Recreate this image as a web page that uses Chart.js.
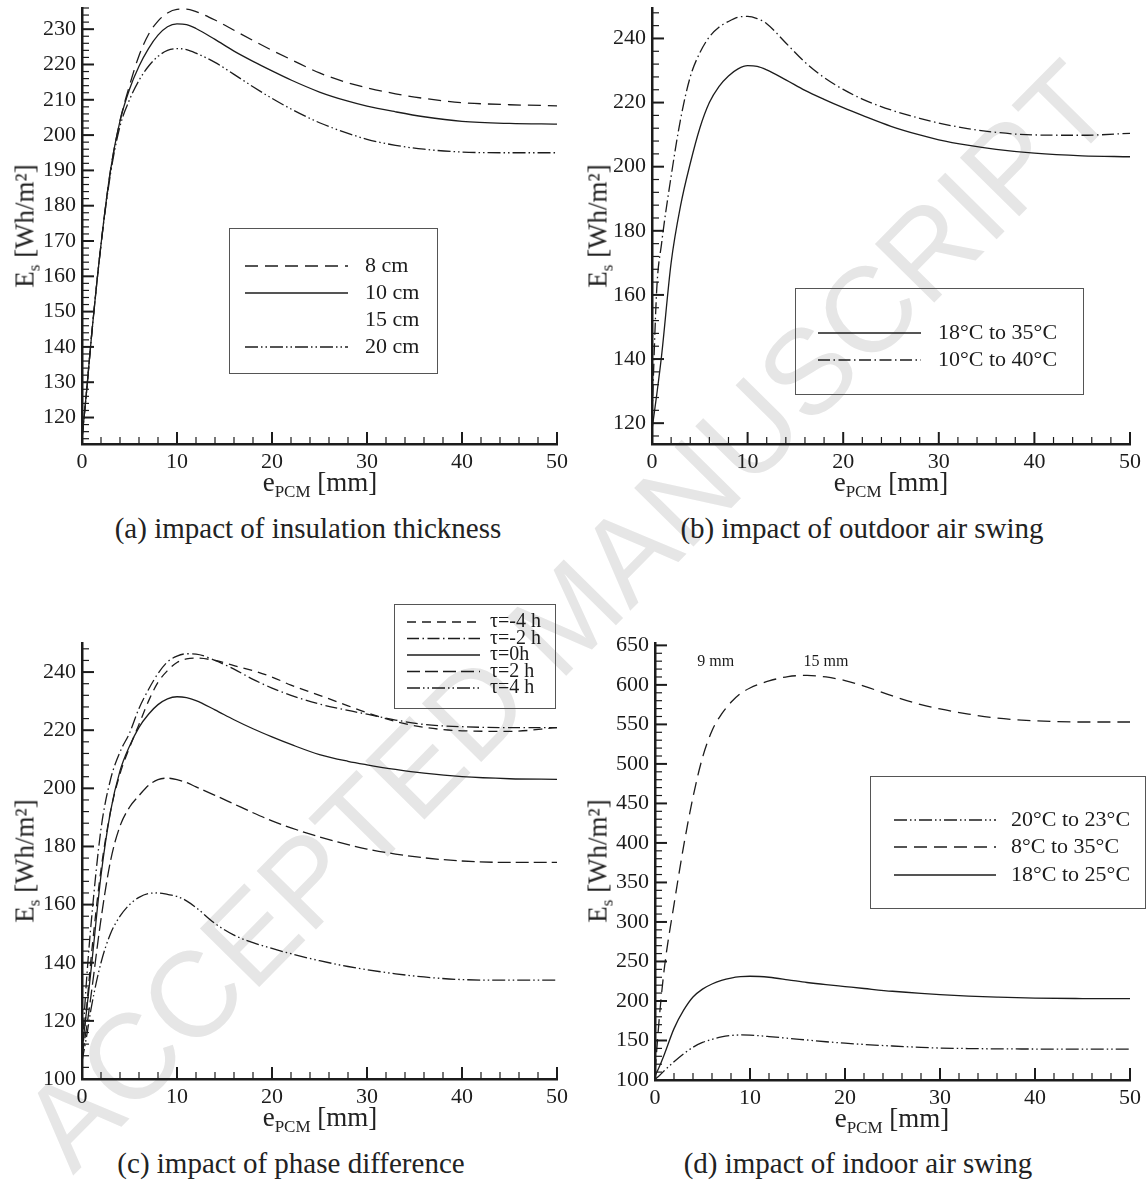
<!DOCTYPE html>
<html>
<head>
<meta charset="utf-8">
<title>Stored energy vs PCM thickness</title>
<script src="https://cdn.jsdelivr.net/npm/chart.js@4.4.1/dist/chart.umd.min.js"></script>
<style>
  body { margin: 0; background: #fff; }
  #page { position: relative; width: 1146px; height: 1186px; overflow: hidden;
          font-family: 'Liberation Serif', 'Times New Roman', serif; color: #222; }
  #page canvas { position: absolute; z-index: 1; }
  .mark { position: absolute; left: 567px; top: 615px; z-index: 0; white-space: nowrap; line-height: 1;
          transform: translate(-50%, -50%) rotate(-45.4deg);
          font: 121px 'Liberation Sans', Arial, sans-serif; color: #e6e6e6; }
  .ytitle { position: absolute; z-index: 2; white-space: nowrap; line-height: 1; font-size: 27px;
            transform: translate(-50%, -50%) rotate(-90deg); }
  .xtitle { position: absolute; z-index: 2; white-space: nowrap; line-height: 1; font-size: 27px;
            transform: translate(-50%, -50%); }
  .sub { font-size: 17px; position: relative; top: 6px; }
  .caption { position: absolute; z-index: 2; white-space: nowrap; line-height: 1; font-size: 29px;
             transform: translate(-50%, -50%); }
</style>
</head>
<body>
<div id="page">
  <div class="mark">ACCEPTED MANUSCRIPT</div>

  <canvas id="chartA" width="573" height="524" style="left:0;top:-30px"></canvas>
  <canvas id="chartB" width="573" height="524" style="left:573px;top:-30px"></canvas>
  <canvas id="chartC" width="573" height="530" style="left:0;top:600px"></canvas>
  <canvas id="chartD" width="573" height="530" style="left:573px;top:600px"></canvas>

  <div class="ytitle" style="left:25px;top:226px">E<span class="sub">s</span> [Wh/m²]</div>
  <div class="ytitle" style="left:598px;top:226px">E<span class="sub">s</span> [Wh/m²]</div>
  <div class="ytitle" style="left:25px;top:861px">E<span class="sub">s</span> [Wh/m²]</div>
  <div class="ytitle" style="left:598px;top:861px">E<span class="sub">s</span> [Wh/m²]</div>

  <div class="xtitle" style="left:320px;top:482px">e<span class="sub">PCM</span> [mm]</div>
  <div class="xtitle" style="left:891px;top:482px">e<span class="sub">PCM</span> [mm]</div>
  <div class="xtitle" style="left:320px;top:1117px">e<span class="sub">PCM</span> [mm]</div>
  <div class="xtitle" style="left:892px;top:1118px">e<span class="sub">PCM</span> [mm]</div>

  <div class="caption" style="left:308px;top:528px">(a) impact of insulation thickness</div>
  <div class="caption" style="left:862px;top:528px">(b) impact of outdoor air swing</div>
  <div class="caption" style="left:291px;top:1163px">(c) impact of phase difference</div>
  <div class="caption" style="left:858px;top:1163px">(d) impact of indoor air swing</div>
</div>

<script>
// PCM thickness [mm], shared by every curve
const eX = [0, 0.5, 1, 2, 3, 4, 5, 6, 7, 8, 9, 10, 11, 12, 14, 16, 18, 20, 22, 25, 28, 30, 33, 36, 40, 45, 50];
const xTicks = [0, 10, 20, 30, 40, 50];

// (a) insulation thickness
const thick8  = [114, 128, 143, 169, 190, 204, 214, 222.5, 228.5, 232.3, 234.6, 235.6, 235.7, 235, 232.6, 229.7, 226.8, 224, 221.4, 217.6, 214.8, 213.4, 211.7, 210.4, 209.2, 208.6, 208.3];
const thick10 = [114, 128, 143, 169, 190, 204, 213, 219.5, 224.5, 228.3, 230.7, 231.5, 231.3, 230.2, 227.1, 223.8, 220.9, 218.2, 215.6, 212.2, 209.6, 208.2, 206.6, 205.2, 203.9, 203.3, 203.1];
const thick15 = [];   // listed in the legend, no curve visible
const thick20 = [114, 128, 143, 169, 189, 202.5, 210, 215.5, 219.5, 222.3, 224, 224.5, 224.2, 223.2, 220.6, 217.2, 213.7, 210.4, 207.4, 203.5, 200.5, 198.8, 197.1, 196, 195.2, 195, 195];
const ticksA = [120, 130, 140, 150, 160, 170, 180, 190, 200, 210, 220, 230];

// (b) outdoor air swing
const out18_35 = [118, 129, 141, 170, 188, 201, 212, 220, 225, 228.3, 230.5, 231.5, 231.3, 230.2, 227.1, 223.8, 221, 218.4, 216, 212.6, 209.9, 208.4, 206.7, 205.4, 204.2, 203.4, 203.1];
const out10_40 = [122, 162, 176, 197, 215, 228, 235.5, 240.5, 243.5, 245.3, 246.6, 246.9, 246.2, 244.6, 238.6, 232.6, 227.8, 224.1, 221.1, 217.7, 215.1, 213.6, 211.9, 210.7, 209.9, 209.8, 210.4];
const ticksB = [120, 140, 160, 180, 200, 220, 240];

// (c) phase difference
const tauM4 = [108, 125, 143, 172, 192, 205, 214, 222, 230, 236.5, 240.5, 243.3, 244.5, 244.8, 244, 242.2, 240.5, 238.3, 235.5, 232, 228.4, 226, 223, 221, 219.8, 219.6, 220.9];
const tauM2 = [110, 135, 155, 186, 203, 212.5, 219, 227.5, 234, 239.5, 243.5, 245.5, 246.3, 246.2, 244, 241, 237.5, 234.5, 232, 229, 226.8, 225.5, 223.5, 222, 221.2, 220.9, 220.9];
const tau0  = [110, 124, 139, 170, 192, 206, 214.5, 221, 225.5, 228.8, 230.8, 231.5, 231.2, 230.2, 227, 223.6, 220.5, 217.7, 215.1, 211.6, 209.3, 208.1, 206.5, 205.2, 204, 203.3, 203.1];
const tauP2 = [108, 118, 130, 155, 175, 187, 193.5, 197.5, 201, 203, 203.5, 203, 202, 200.5, 197.6, 194.6, 191.6, 188.8, 186.4, 183.3, 180.6, 179.1, 177.4, 176.1, 175, 174.5, 174.5];
const tauP4 = [106, 115, 125, 140, 150, 156, 160, 162.5, 163.8, 164, 163.5, 162.8, 161.3, 159, 153.5, 149.5, 146.9, 144.9, 143.1, 140.7, 138.7, 137.6, 136.2, 135.1, 134.2, 134, 134];
const ticksC = [100, 120, 140, 160, 180, 200, 220, 240];

// (d) indoor air swing
const in20_23 = [101, 106, 112, 123, 133, 141.5, 147.5, 151.5, 154.5, 156.3, 157, 156.7, 156, 155, 152.8, 150.6, 148.4, 146.6, 145, 143, 141.3, 140.4, 139.8, 139.4, 139.2, 139, 139];
const in8_35  = [110, 185, 243, 322, 395, 458, 508, 542, 563, 578, 589, 596, 601, 605, 610.5, 612, 610, 605.5, 598.5, 586, 575, 569.5, 563, 558, 554.5, 553, 553];
const in18_25 = [105, 118, 133, 165, 188, 205, 215, 221.5, 226, 229, 230.7, 231.3, 231, 230, 226.8, 223.4, 220.6, 218.2, 215.8, 212.3, 209.5, 208, 206.2, 204.9, 203.6, 203.1, 203];
const ticksD = [100, 150, 200, 250, 300, 350, 400, 450, 500, 550, 600, 650];

const SERIF = "'Liberation Serif', 'Times New Roman', serif";
const INK = '#1c1c1c';

// line styles
const SOLID = [];
const DASH = [13, 7];
const SHORT_DASH = [9, 6];
const LONG_DASH = [13, 5];
const DASH_DOT = [12, 3.5, 1.5, 3.5];
const DASH_DOT_DOT = [13, 3, 1.5, 3, 1.5, 3];

// inward major/minor tick marks on the left and bottom axes
const inwardTicks = {
    id: 'inwardTicks',
    afterDatasetsDraw(chart, args, opts) {
        if (!opts || !opts.xMinor) return;
        const {ctx, chartArea} = chart;
        ctx.save();
        ctx.strokeStyle = INK;
        const run = (scale, major, minor, vertical) => {
            const start = Math.ceil(scale.min / minor - 1e-9) * minor;
            const n = Math.floor((scale.max - start) / minor + 1e-9);
            for (let i = 0; i <= n; i++) {
                const v = start + i * minor;
                const isMajor = Math.abs(v / major - Math.round(v / major)) < 1e-6;
                const len = isMajor ? 12 : 7;
                ctx.lineWidth = isMajor ? 2 : 1.2;
                const p = scale.getPixelForValue(v);
                ctx.beginPath();
                if (vertical) {
                    ctx.moveTo(chartArea.left, p);
                    ctx.lineTo(chartArea.left + len, p);
                } else {
                    ctx.moveTo(p, chartArea.bottom);
                    ctx.lineTo(p, chartArea.bottom - len);
                }
                ctx.stroke();
            }
        };
        run(chart.scales.x, opts.xMajor, opts.xMinor, false);
        run(chart.scales.y, opts.yMajor, opts.yMinor, true);
        ctx.restore();
    }
};

// boxed legend placed inside the plot
const boxLegend = {
    id: 'boxLegend',
    afterDraw(chart, args, opts) {
        if (!opts || !opts.box) return;
        const {ctx} = chart;
        const [bx, by, bw, bh] = opts.box;
        ctx.save();
        ctx.strokeStyle = '#555';
        ctx.lineWidth = 1;
        ctx.strokeRect(bx + 0.5, by + 0.5, bw, bh);
        ctx.font = opts.font;
        ctx.textBaseline = 'middle';
        ctx.fillStyle = INK;
        chart.data.datasets.forEach((ds, i) => {
            const y = opts.rows[i];
            ctx.setLineDash(ds.borderDash || []);
            ctx.strokeStyle = ds.borderColor;
            ctx.lineWidth = ds.borderWidth;
            ctx.beginPath();
            ctx.moveTo(opts.lineX[0], y);
            ctx.lineTo(opts.lineX[1], y);
            ctx.stroke();
            ctx.setLineDash([]);
            ctx.fillText(ds.label, opts.textX, y);
        });
        ctx.restore();
    }
};

// small text notes placed in data coordinates
const plotNotes = {
    id: 'plotNotes',
    afterDraw(chart, args, opts) {
        if (!opts || !opts.items) return;
        const {ctx} = chart;
        ctx.save();
        ctx.font = opts.font;
        ctx.fillStyle = INK;
        ctx.textAlign = 'center';
        ctx.textBaseline = 'middle';
        opts.items.forEach(it => {
            ctx.fillText(it.text, chart.scales.x.getPixelForValue(it.x), chart.scales.y.getPixelForValue(it.y));
        });
        ctx.restore();
    }
};

Chart.register(inwardTicks, boxLegend, plotNotes);

function makePanel(id, series, cfg) {
    return new Chart(document.getElementById(id), {
        type: 'line',
        data: {
            datasets: series.map(s => ({
                label: s.label,
                data: s.values.map((v, i) => ({x: eX[i], y: v})),
                borderColor: s.color || INK,
                borderDash: s.dash,
                borderWidth: 1.3,
                pointRadius: 0,
                fill: false,
                cubicInterpolationMode: 'monotone'
            }))
        },
        options: {
            responsive: false,
            animation: false,
            events: [],
            layout: {padding: {top: cfg.padTop, right: cfg.padRight, left: 0, bottom: 0}},
            plugins: {
                legend: {display: false},
                tooltip: {enabled: false},
                inwardTicks: {xMajor: 10, xMinor: 2, yMajor: cfg.yMajor, yMinor: cfg.yMinor},
                boxLegend: cfg.legend,
                plotNotes: cfg.notes || {}
            },
            scales: {
                x: {
                    type: 'linear',
                    min: 0,
                    max: 50,
                    grid: {display: false, drawTicks: false},
                    border: {display: true, color: INK, width: 2.5},
                    ticks: {color: INK, padding: 5, font: {family: SERIF, size: 22}},
                    afterBuildTicks: s => { s.ticks = xTicks.map(v => ({value: v})); },
                    afterFit: s => { s.height = cfg.xHeight; }
                },
                y: {
                    type: 'linear',
                    min: cfg.yMin,
                    max: cfg.yMax,
                    grid: {display: false, drawTicks: false},
                    border: {display: true, color: INK, width: 2.5},
                    ticks: {color: INK, padding: 6, font: {family: SERIF, size: 22}},
                    afterBuildTicks: s => { s.ticks = cfg.yTicks.map(v => ({value: v})); },
                    afterFit: s => { s.width = cfg.yWidth; }
                }
            }
        }
    });
}

makePanel('chartA', [
    {label: '8 cm', values: thick8, dash: DASH},
    {label: '10 cm', values: thick10, dash: SOLID},
    {label: '15 cm', values: thick15, dash: SOLID, color: 'rgba(0,0,0,0)'},
    {label: '20 cm', values: thick20, dash: DASH_DOT_DOT}
], {
    padTop: 38, padRight: 16, yWidth: 82, xHeight: 50,
    yMin: 112.5, yMax: 236, yTicks: ticksA, yMajor: 10, yMinor: 2,
    legend: {box: [229, 258, 208, 145], rows: [296, 323, 350, 377], lineX: [245, 348], textX: 365, font: '22px ' + SERIF}
});

makePanel('chartB', [
    {label: '18°C to 35°C', values: out18_35, dash: SOLID},
    {label: '10°C to 40°C', values: out10_40, dash: DASH_DOT}
], {
    padTop: 38, padRight: 15, yWidth: 79, xHeight: 50,
    yMin: 113.5, yMax: 249.5, yTicks: ticksB, yMajor: 20, yMinor: 4,
    legend: {box: [222, 318, 288, 106], rows: [363, 390], lineX: [245, 348], textX: 365, font: '22px ' + SERIF}
});

makePanel('chartC', [
    {label: 'τ=-4 h', values: tauM4, dash: SHORT_DASH},
    {label: 'τ=-2 h', values: tauM2, dash: DASH_DOT},
    {label: 'τ=0h', values: tau0, dash: SOLID},
    {label: 'τ=2 h', values: tauP2, dash: LONG_DASH},
    {label: 'τ=4 h', values: tauP4, dash: DASH_DOT_DOT}
], {
    padTop: 43, padRight: 16, yWidth: 82, xHeight: 51,
    yMin: 100, yMax: 250, yTicks: ticksC, yMajor: 20, yMinor: 4,
    legend: {box: [394, 4, 161, 104], rows: [22, 38.5, 55, 71.5, 88], lineX: [407, 480], textX: 490, font: '20px ' + SERIF}
});

makePanel('chartD', [
    {label: '20°C to 23°C', values: in20_23, dash: DASH_DOT_DOT},
    {label: '8°C to 35°C', values: in8_35, dash: DASH},
    {label: '18°C to 25°C', values: in18_25, dash: SOLID}
], {
    padTop: 43, padRight: 16, yWidth: 82, xHeight: 50,
    yMin: 100, yMax: 653, yTicks: ticksD, yMajor: 50, yMinor: 10,
    legend: {box: [297, 176, 275, 132], rows: [220, 247, 275], lineX: [321, 423], textX: 438, font: '22px ' + SERIF},
    notes: {font: '16px ' + SERIF, items: [{text: '9 mm', x: 6.4, y: 629}, {text: '15 mm', x: 18, y: 629}]}
});
</script>
</body>
</html>
